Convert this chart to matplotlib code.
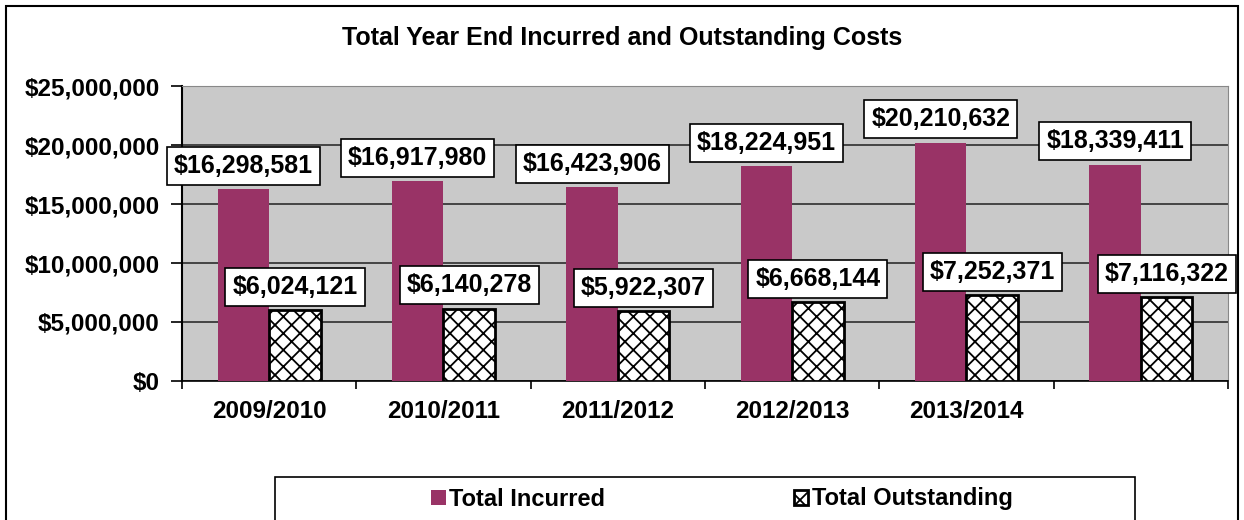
import numpy as np
import matplotlib.pyplot as plt
from matplotlib.patches import Rectangle
from matplotlib.ticker import FuncFormatter

plt.rcParams['font.family'] = ['Liberation Sans', 'DejaVu Sans']
plt.rcParams['hatch.linewidth'] = 1.3

years = ["2009/2010", "2010/2011", "2011/2012", "2012/2013", "2013/2014", ""]
total_incurred = [16298581, 16917980, 16423906, 18224951, 20210632, 18339411]
total_outstanding = [6024121, 6140278, 5922307, 6668144, 7252371, 7116322]

fig = plt.figure(figsize=(12.44, 5.2), dpi=100)
ax = fig.add_axes([182 / 1244, 139 / 520, 1046 / 1244, 295 / 520])

# outer frame round the whole chart
fig.patches.append(Rectangle((6 / 1244, -0.05), 1232 / 1244, 1.05 - 6 / 520,
                             transform=fig.transFigure, fill=False,
                             edgecolor="black", linewidth=1.5))
# legend frame
fig.patches.append(Rectangle((275 / 1244, -0.05), 860 / 1244, 0.05 + 43 / 520,
                             transform=fig.transFigure, facecolor="white",
                             edgecolor="black", linewidth=1.2))

x = np.arange(len(years))
w = 0.295
ax.set_facecolor("#c9c9c9")
b1 = ax.bar(x - w / 2, total_incurred, width=w, color="#993366",
            label="Total Incurred", zorder=3)
b2 = ax.bar(x + w / 2, total_outstanding, width=w, facecolor="white",
            edgecolor="black", linewidth=2, hatch="xx",
            label="Total Outstanding", zorder=3)

box = dict(boxstyle="square,pad=0.28", facecolor="white", edgecolor="black", linewidth=1.2)
for xi, v in zip(x, total_incurred):
    ax.annotate(f"${v:,.0f}", (xi - w / 2, v), xytext=(0, 8), textcoords="offset points",
                ha="center", va="bottom", fontsize=18, fontweight="bold", bbox=box, zorder=5)
for xi, v in zip(x, total_outstanding):
    ax.annotate(f"${v:,.0f}", (xi + w / 2, v), xytext=(0, 8), textcoords="offset points",
                ha="center", va="bottom", fontsize=18, fontweight="bold", bbox=box, zorder=5)

ax.set_xlim(-0.5, len(years) - 0.5)
ax.set_ylim(0, 25000000)
ax.set_yticks(np.arange(0, 25000001, 5000000))
ax.yaxis.set_major_formatter(FuncFormatter(lambda v, p: f"${v:,.0f}"))
ax.set_xticks(x)
ax.set_xticklabels(years)
ax.set_xticks(np.arange(-0.5, len(years), 1), minor=True)
ax.tick_params(axis="x", which="major", length=0, pad=14)
ax.tick_params(axis="x", which="minor", length=6, width=1.2)
ax.tick_params(axis="y", length=8, width=1.2, pad=8)
for lab in ax.get_xticklabels() + ax.get_yticklabels():
    lab.set_fontsize(17.5)
    lab.set_fontweight("bold")

ax.grid(axis="y", color="#3a3a3a", linewidth=1.3, zorder=1)
for s in ["top", "right"]:
    ax.spines[s].set_color("#888888")
ax.spines["left"].set_linewidth(1.5)
ax.spines["bottom"].set_linewidth(1.2)

fig.text(622 / 1244, 1 - 38 / 520, "Total Year End Incurred and Outstanding Costs",
         ha="center", va="center", fontsize=18, fontweight="bold")

leg = fig.legend(handles=[b1, b2], loc="center", bbox_to_anchor=(722 / 1244, 21 / 520),
                 ncol=2, frameon=False, fontsize=17,
                 handlelength=0.6, handleheight=0.6, handletextpad=0.15,
                 columnspacing=8.0)
for t in leg.get_texts():
    t.set_fontweight("bold")

fig.savefig("out.png", dpi=100)
